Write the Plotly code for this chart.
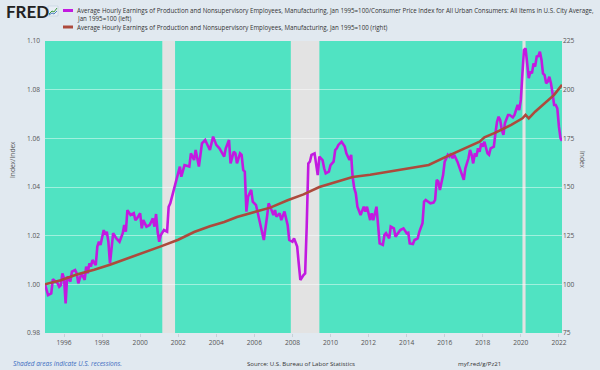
import plotly.graph_objects as go

# ---- Data ----
real_dates = [
    "1995-01","1995-03","1995-05","1995-06","1995-09","1995-10","1995-11","1995-12",
    "1996-01","1996-02","1996-03","1996-05","1996-06","1996-08","1996-09","1996-10","1996-11","1996-12",
    "1997-02","1997-03","1997-04","1997-05","1997-06","1997-07","1997-09","1997-10","1997-11","1997-12",
    "1998-02","1998-03","1998-04","1998-05","1998-06","1998-08","1998-10","1998-12",
    "1999-02","1999-03","1999-04","1999-05","1999-07","1999-09","1999-10","1999-11",
    "2000-01","2000-02","2000-03","2000-05","2000-07","2000-09","2000-10","2000-11","2000-12",
    "2001-01","2001-02","2001-04","2001-06","2001-07","2001-08","2001-10","2001-12",
    "2002-02","2002-03","2002-05","2002-08","2002-09","2002-11","2002-12",
    "2003-02","2003-04","2003-06","2003-09","2003-11","2004-01","2004-03","2004-06",
    "2004-07","2004-09","2004-10","2004-12","2005-01","2005-02","2005-04","2005-05","2005-06",
    "2005-07","2005-08","2005-09","2005-11","2005-12","2006-02","2006-03","2006-04","2006-06",
    "2006-07","2006-09","2006-10","2006-11","2007-01","2007-02","2007-03","2007-05","2007-06",
    "2007-08","2007-10","2007-11","2008-01","2008-02","2008-04","2008-05","2008-06","2008-08",
    "2008-09","2008-10","2008-11","2008-12","2009-01","2009-03","2009-04","2009-05","2009-06",
    "2009-08","2009-09","2009-10","2009-12","2010-01","2010-03","2010-04","2010-05","2010-06",
    "2010-08","2010-10","2010-11","2011-01","2011-02","2011-03","2011-04","2011-05","2011-06",
    "2011-08","2011-10","2011-11","2011-12","2012-01","2012-02","2012-03","2012-04","2012-06",
    "2012-07","2012-08","2012-10","2012-11","2012-12","2013-02","2013-03","2013-05","2013-06",
    "2013-08","2013-09","2013-11","2014-01","2014-02","2014-03","2014-05","2014-06","2014-08",
    "2014-09","2014-11","2014-12","2015-01","2015-03","2015-04","2015-06","2015-07","2015-08",
    "2015-09","2015-10","2015-12","2016-01","2016-02","2016-03","2016-04","2016-05","2016-06",
    "2016-07","2016-09","2016-10","2016-12","2017-01","2017-02","2017-04","2017-05","2017-06",
    "2017-07","2017-08","2017-09","2017-10","2017-11","2017-12","2018-01","2018-02","2018-04",
    "2018-05","2018-06","2018-08","2018-09","2018-10","2018-11","2018-12","2019-01","2019-02",
    "2019-03","2019-05","2019-06","2019-08","2019-09","2019-10","2019-11","2019-12","2020-01",
    "2020-02","2020-03","2020-04","2020-05","2020-06","2020-07","2020-08","2020-09","2020-10",
    "2020-11","2020-12","2021-01","2021-02","2021-03","2021-04","2021-05","2021-06","2021-07",
    "2021-08","2021-09","2021-10","2021-11","2021-12","2022-01","2022-02","2022-03",
]
real_values = [
    1.0000,0.9956,0.9963,1.0021,1.0004,0.9990,0.9997,1.0045,
    1.0025,0.9922,1.0032,1.0011,1.0052,1.0059,1.0045,1.0004,1.0025,1.0045,
    1.0018,1.0073,1.0045,1.0086,1.0073,1.0100,1.0079,1.0155,1.0175,1.0162,
    1.0223,1.0203,1.0216,1.0175,1.0086,1.0210,1.0189,1.0175,
    1.0210,1.0244,1.0216,1.0305,1.0285,1.0292,1.0264,1.0271,
    1.0292,1.0230,1.0264,1.0237,1.0244,1.0271,1.0237,1.0289,1.0216,
    1.0175,1.0203,1.0223,1.0216,1.0319,1.0333,1.0380,1.0436,
    1.0484,1.0442,1.0490,1.0484,1.0538,1.0511,1.0552,
    1.0484,1.0579,1.0593,1.0552,1.0607,1.0573,1.0559,1.0525,
    1.0559,1.0593,1.0497,1.0545,1.0538,1.0497,1.0538,1.0532,1.0470,
    1.0463,1.0299,1.0360,1.0388,1.0340,1.0326,1.0299,1.0278,1.0216,
    1.0182,1.0278,1.0333,1.0319,1.0285,1.0305,1.0278,1.0292,1.0264,
    1.0299,1.0244,1.0182,1.0175,1.0189,1.0155,1.0086,1.0018,1.0038,
    1.0045,1.0237,1.0497,1.0504,1.0532,1.0538,1.0497,1.0449,1.0525,
    1.0511,1.0477,1.0456,1.0463,1.0490,1.0504,1.0552,1.0559,1.0573,
    1.0586,1.0566,1.0538,1.0511,1.0532,1.0442,1.0395,1.0374,1.0319,
    1.0285,1.0319,1.0299,1.0319,1.0285,1.0264,1.0292,1.0264,1.0319,
    1.0251,1.0168,1.0162,1.0203,1.0210,1.0189,1.0237,1.0230,1.0196,
    1.0216,1.0223,1.0230,1.0210,1.0212,1.0168,1.0166,1.0182,1.0189,
    1.0216,1.0251,1.0340,1.0347,1.0340,1.0333,1.0336,1.0347,1.0429,
    1.0423,1.0388,1.0449,1.0504,1.0518,1.0532,1.0525,1.0538,1.0518,
    1.0532,1.0504,1.0484,1.0442,1.0429,1.0477,1.0518,1.0552,1.0532,
    1.0497,1.0538,1.0525,1.0559,1.0545,1.0579,1.0566,1.0586,1.0538,
    1.0532,1.0559,1.0566,1.0621,1.0668,1.0689,1.0675,1.0634,1.0614,
    1.0662,1.0696,1.0696,1.0686,1.0696,1.0716,1.0737,1.0716,1.0758,
    1.0867,1.0963,1.0970,1.0915,1.0847,1.0874,1.0867,1.0908,1.0895,
    1.0936,1.0938,1.0956,1.0922,1.0867,1.0860,1.0826,1.0833,1.0853,
    1.0826,1.0785,1.0737,1.0737,1.0723,1.0648,1.0600,1.0590,
]

nominal_dates = [
    "1995-01","1995-11","1996-09","1997-08","1998-06","1999-05","2000-03","2001-02",
    "2002-01","2002-11","2003-09","2004-06","2005-02","2006-01","2006-11","2007-10",
    "2008-08","2009-06","2010-05","2011-03","2012-02","2013-01","2013-09","2014-04",
    "2015-03","2016-01","2016-12","2017-11","2018-02","2018-09","2019-07","2020-02",
    "2020-04","2020-06","2020-10","2021-04","2021-10","2022-03",
]
nominal_values = [
    100.0,102.1,105.1,107.5,110.1,113.2,116.3,119.5,
    122.9,126.9,129.8,132.0,134.6,137.2,139.4,143.2,
    146.2,150.0,152.6,155.1,156.3,157.7,158.9,159.9,
    161.3,165.2,169.3,173.3,175.5,177.9,181.9,185.3,
    187.0,185.3,188.7,193.0,197.3,202.5,
]

recession_starts = ["2001-03-01", "2007-12-01", "2020-02-01"]
recession_ends = ["2001-11-01", "2009-06-01", "2020-04-01"]

left_ticks = [0.98, 1.00, 1.02, 1.04, 1.06, 1.08, 1.10]
right_ticks = [75, 100, 125, 150, 175, 200, 225]
year_ticks = [str(y) for y in range(1996, 2023, 2)]

legend_1 = ("Average Hourly Earnings of Production and Nonsupervisory Employees, Manufacturing, "
            "Jan 1995=100/Consumer Price Index for All Urban Consumers: All Items in U.S. City Average,")
legend_1b = "Jan 1995=100 (left)"
legend_2 = "Average Hourly Earnings of Production and Nonsupervisory Employees, Manufacturing, Jan 1995=100 (right)"

# ---- Styles ----
PURPLE = "#c21ae0"
RED = "#ad4a3c"
TEAL = "#50e3c2"
REC = "#e3e3e3"
BG = "#e1e9f0"
FONT = "Open Sans"
PW = 517.0
PH = 292.0


def px_x(p):
    return (p - 45) / PW


def px_y(p):
    return (333 - p) / PH


fig = go.Figure()
fig.add_trace(go.Scatter(x=real_dates, y=real_values, mode="lines",
                         line=dict(color=PURPLE, width=2.6), yaxis="y", showlegend=False))
fig.add_trace(go.Scatter(x=nominal_dates, y=nominal_values, mode="lines",
                         line=dict(color=RED, width=2.6), yaxis="y2", showlegend=False))

shapes = []
for s, e in zip(recession_starts, recession_ends):
    shapes.append(dict(type="rect", xref="x", yref="paper", x0=s, x1=e, y0=0, y1=1,
                       fillcolor=REC, line=dict(width=0), layer="between"))
# legend samples
shapes.append(dict(type="line", xref="paper", yref="paper", x0=px_x(63), x1=px_x(73),
                   y0=px_y(10.5), y1=px_y(10.5), line=dict(color=PURPLE, width=3)))
shapes.append(dict(type="line", xref="paper", yref="paper", x0=px_x(63), x1=px_x(73),
                   y0=px_y(27), y1=px_y(27), line=dict(color=RED, width=3)))
# small FRED logo icon
shapes.append(dict(type="rect", xref="paper", yref="paper", x0=px_x(48), x1=px_x(58),
                   y0=px_y(16), y1=px_y(6), fillcolor="#e8eef5",
                   line=dict(color="#b8c8d8", width=0.5)))
shapes.append(dict(type="path", xref="paper", yref="paper",
                   path="M %f,%f L %f,%f L %f,%f L %f,%f" % (
                       px_x(49), px_y(14), px_x(52), px_y(11), px_x(54), px_y(12), px_x(57), px_y(8)),
                   line=dict(color="#3d9a3d", width=1)))
shapes.append(dict(type="path", xref="paper", yref="paper",
                   path="M %f,%f L %f,%f L %f,%f L %f,%f" % (
                       px_x(49), px_y(15), px_x(52), px_y(13), px_x(54), px_y(14), px_x(57), px_y(11)),
                   line=dict(color="#4a7fc0", width=1)))

LF = 6.2
annotations = [
    dict(text="<b>FRED</b>", xref="paper", yref="paper", x=px_x(4), y=px_y(11),
         xanchor="left", yanchor="middle", showarrow=False,
         font=dict(family="Lato, Open Sans", size=17, color="#222222")),
    dict(text=legend_1, xref="paper", yref="paper", x=px_x(75), y=px_y(10.5),
         xanchor="left", yanchor="middle", showarrow=False,
         font=dict(family=FONT, size=LF, color="#333333")),
    dict(text=legend_1b, xref="paper", yref="paper", x=px_x(75), y=px_y(19),
         xanchor="left", yanchor="middle", showarrow=False,
         font=dict(family=FONT, size=LF, color="#333333")),
    dict(text=legend_2, xref="paper", yref="paper", x=px_x(75), y=px_y(27),
         xanchor="left", yanchor="middle", showarrow=False,
         font=dict(family=FONT, size=LF, color="#333333")),
    dict(text="Index/Index", xref="paper", yref="paper", x=px_x(12), y=px_y(160),
         xanchor="center", yanchor="middle", textangle=-90, showarrow=False,
         font=dict(family=FONT, size=6.6, color="#555555")),
    dict(text="Index", xref="paper", yref="paper", x=px_x(583), y=px_y(160),
         xanchor="center", yanchor="middle", textangle=90, showarrow=False,
         font=dict(family=FONT, size=6.6, color="#555555")),
    dict(text="<i>Shaded areas indicate U.S. recessions.</i>", xref="paper", yref="paper",
         x=px_x(11), y=px_y(363), xanchor="left", yanchor="middle", showarrow=False,
         font=dict(family=FONT, size=6.5, color="#3b6cc0")),
    dict(text="Source: U.S. Bureau of Labor Statistics", xref="paper", yref="paper",
         x=px_x(245), y=px_y(363), xanchor="left", yanchor="middle", showarrow=False,
         font=dict(family=FONT, size=6.1, color="#333333")),
    dict(text="myf.red/g/Pz21", xref="paper", yref="paper",
         x=px_x(456), y=px_y(363), xanchor="left", yanchor="middle", showarrow=False,
         font=dict(family=FONT, size=6.1, color="#333333")),
]

fig.update_layout(
    width=600, height=370,
    margin=dict(l=45, r=38, t=41, b=37),
    paper_bgcolor=BG, plot_bgcolor=TEAL,
    font=dict(family=FONT, size=7, color="#555555"),
    shapes=shapes, annotations=annotations,
    xaxis=dict(type="date", range=["1995-01-01", "2022-03-01"],
               tickvals=[y + "-01-01" for y in year_ticks], ticktext=year_ticks,
               showgrid=False, ticks="outside", ticklen=3, tickcolor="#c8d0d8",
               showline=False, zeroline=False, tickfont=dict(size=6.6, color="#555555")),
    yaxis=dict(range=[0.98, 1.10], tickvals=left_ticks,
               ticktext=[f"{v:.2f}" for v in left_ticks],
               showgrid=True, gridcolor="rgba(255,255,255,0.45)", gridwidth=1,
               zeroline=False, showline=False, ticks="", ticklabelstandoff=4,
               tickfont=dict(size=6.6, color="#555555")),
    yaxis2=dict(range=[75, 225], tickvals=right_ticks, overlaying="y", side="right",
                showgrid=False, zeroline=False, showline=False, ticks="",
                tickfont=dict(size=6.6, color="#555555")),
)

fig.write_html("out.html", config={"displayModeBar": False}, post_script=(
    "document.body.style.margin='0';document.body.style.padding='0';"
    "document.body.style.background='#e1e9f0';"))
